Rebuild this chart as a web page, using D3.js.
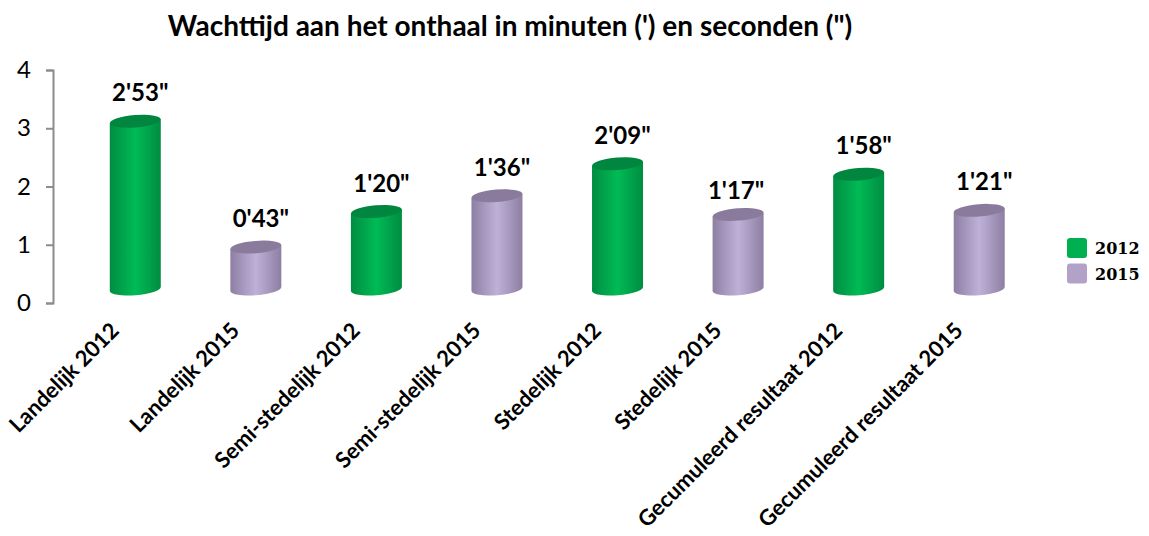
<!DOCTYPE html>
<html>
<head>
<meta charset="utf-8">
<script src="https://cdn.jsdelivr.net/npm/d3@7"></script>
<style>
  html, body { margin: 0; padding: 0; background: #fff; }
  text { font-family: Lato, "Open Sans", sans-serif; fill: #000; }
</style>
</head>
<body>
<div id="chart"></div>
<script>
const categories = ["Landelijk 2012", "Landelijk 2015", "Semi-stedelijk 2012", "Semi-stedelijk 2015",
  "Stedelijk 2012", "Stedelijk 2015", "Gecumuleerd resultaat 2012", "Gecumuleerd resultaat 2015"];
const years = ["2012", "2015", "2012", "2015", "2012", "2015", "2012", "2015"];
const minutes = [2.88, 0.72, 1.33, 1.6, 2.15, 1.28, 1.97, 1.35];
const valueLabels = ["2'53\"", "0'43\"", "1'20\"", "1'36\"", "2'09\"", "1'17\"", "1'58\"", "1'21\""];
const yTicks = [0, 1, 2, 3, 4];
const legendYears = ["2012", "2015"];

const width = 1149, height = 536;
const colors = {
  "2012": { edge: "#008c42", mid: "#00bb55", top: "#00863f", key: "#00b050" },
  "2015": { edge: "#8d7fa3", mid: "#bfb0d8", top: "#8a7b9c", key: "#b3a2c7" }
};

const svg = d3.select("#chart").append("svg")
  .attr("width", width).attr("height", height)
  .style("display", "block");

// one gradient per series
const defs = svg.append("defs");
legendYears.forEach(y => {
  const g = defs.append("linearGradient").attr("id", "cyl" + y);
  g.append("stop").attr("offset", "0%").attr("stop-color", colors[y].edge);
  g.append("stop").attr("offset", "50%").attr("stop-color", colors[y].mid);
  g.append("stop").attr("offset", "100%").attr("stop-color", colors[y].edge);
});

const y = d3.scaleLinear().domain([0, 4]).range([303, 70]);
const x = d3.scaleBand().domain(categories).range([75, 1039.5]);

// Title
svg.append("text")
  .attr("x", 510).attr("y", 36)
  .attr("text-anchor", "middle")
  .style("font-size", "28px").style("font-weight", 700)
  .text("Wachttijd aan het onthaal in minuten (') en seconden (\")");

// Y axis
const yAxis = svg.append("g")
  .attr("transform", "translate(53,0)")
  .call(d3.axisLeft(y).tickValues(yTicks).tickSize(7).tickPadding(15).tickFormat(d3.format("d")));
yAxis.selectAll("path, line").attr("stroke", "#8c8c8c").attr("stroke-width", 2);
yAxis.selectAll("text").style("font-size", "24px").style("font-family", "Lato, sans-serif").attr("fill", "#000");

// Cylinders: the floor sits above the zero tick, like the 3D chart it copies
const floorOffset = 14, rx = 25.5, ry = 6.2, tilt = 2, angle = -4.5;
const bars = svg.append("g").selectAll("g")
  .data(categories)
  .enter().append("g")
  .attr("transform", d => `translate(${x(d) + x.bandwidth() / 2},0)`);

bars.append("path")
  .attr("d", (d, i) => {
    const top = y(minutes[i]) - floorOffset, base = y(0) - floorOffset;
    return `M${-rx},${top + tilt}L${-rx},${base + tilt}A${rx},${ry} ${angle} 0 0 ${rx},${base - tilt}L${rx},${top - tilt}Z`;
  })
  .attr("fill", (d, i) => `url(#cyl${years[i]})`);

bars.append("ellipse")
  .attr("rx", rx).attr("ry", ry)
  .attr("transform", (d, i) => `translate(0,${y(minutes[i]) - floorOffset}) rotate(${angle})`)
  .attr("fill", (d, i) => colors[years[i]].top);

// Value labels. 1'17" sits off its bar in the original, so it gets a nudge
bars.append("text")
  .attr("x", (d, i) => valueLabels[i] === "1'17\"" ? -2 : 5)
  .attr("y", (d, i) => y(minutes[i]) - floorOffset - (valueLabels[i] === "1'17\"" ? 15 : 20))
  .attr("text-anchor", "middle")
  .style("font-size", "24px").style("font-weight", 700)
  .text((d, i) => valueLabels[i]);

// Category labels
svg.append("g").selectAll("text")
  .data(categories)
  .enter().append("text")
  .attr("transform", d => `translate(${x(d) + x.bandwidth() / 2 - 15},332) rotate(-45)`)
  .attr("text-anchor", "end")
  .style("font-size", "22px").style("font-weight", 700)
  .text(d => d);

// Legend
const legend = svg.append("g").selectAll("g")
  .data(legendYears)
  .enter().append("g")
  .attr("transform", (d, i) => `translate(1067,${238 + i * 25.5})`);
legend.append("rect")
  .attr("width", 20).attr("height", 20).attr("rx", 3)
  .attr("fill", d => colors[d].key);
legend.append("text")
  .attr("x", 28).attr("y", 16)
  .style("font-family", "'DejaVu Serif', serif")
  .style("font-size", "16px").style("font-weight", 700)
  .text(d => d);
</script>
</body>
</html>
